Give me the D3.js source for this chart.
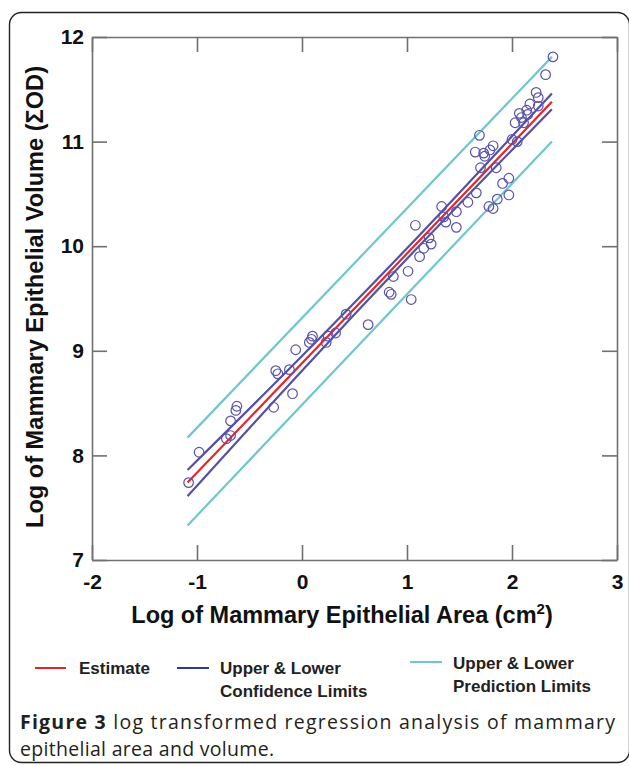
<!DOCTYPE html>
<html>
<head>
<meta charset="utf-8">
<script src="https://cdn.jsdelivr.net/npm/d3@7"></script>
<style>
  html, body { margin: 0; padding: 0; background: #fff; }
  svg { display: block; }
</style>
</head>
<body>
<svg id="chart" width="629" height="766"></svg>
<script>
// ---------------- data ----------------
const xTicks = [-2, -1, 0, 1, 2, 3];
const yTicks = [7, 8, 9, 10, 11, 12];

// observed points: log area (x), log volume (y)
const pointsX = [-1.08, -0.98, -0.72, -0.68, -0.68, -0.63, -0.62, -0.27, -0.25, -0.23,
  -0.12, -0.09, -0.06, 0.07, 0.09, 0.10, 0.23, 0.25, 0.32, 0.42,
  0.63, 0.83, 0.85, 0.87, 1.01, 1.04, 1.08, 1.12, 1.16, 1.21,
  1.23, 1.33, 1.35, 1.37, 1.47, 1.47, 1.58, 1.66, 1.78, 1.82,
  1.86, 1.97, 1.91, 1.97, 1.69, 1.65, 1.73, 1.74, 1.79, 1.82,
  1.70, 1.85, 2.00, 2.05, 2.03, 2.11, 2.09, 2.07, 2.15, 2.14,
  2.17, 2.25, 2.23, 2.25, 2.32, 2.39];
const pointsY = [7.74, 8.03, 8.16, 8.19, 8.33, 8.43, 8.47, 8.46, 8.81, 8.78,
  8.82, 8.59, 9.01, 9.08, 9.11, 9.14, 9.08, 9.14, 9.17, 9.35,
  9.25, 9.56, 9.54, 9.71, 9.76, 9.49, 10.20, 9.90, 9.98, 10.08,
  10.02, 10.38, 10.28, 10.23, 10.18, 10.33, 10.42, 10.51, 10.38, 10.36,
  10.45, 10.49, 10.60, 10.65, 11.06, 10.90, 10.89, 10.86, 10.92, 10.96,
  10.75, 10.75, 11.02, 11.00, 11.18, 11.18, 11.23, 11.27, 11.26, 11.30,
  11.36, 11.34, 11.47, 11.42, 11.64, 11.81];

// fitted lines
const lineX        = [-1.09, 0, 1, 2, 2.38];
const estimateY    = [7.74, 8.88, 9.93, 10.98, 11.38];
const upperConfY   = [7.86, 8.95, 9.98, 11.05, 11.46];
const lowerConfY   = [7.61, 8.81, 9.88, 10.92, 11.31];
const predX        = [-1.09, 2.38];
const upperPredY   = [8.17, 11.81];
const lowerPredY   = [7.33, 11.00];

const legendLabels = [["Estimate"], ["Upper & Lower", "Confidence Limits"], ["Upper & Lower", "Prediction Limits"]];

// ---------------- drawing ----------------
const svg = d3.select("#chart");
const COL_EST = "#e8242b", COL_CONF = "#5450a6", COL_PRED = "#6ec7cd", COL_PT = "#5a52aa";
const FONT = "'Liberation Sans', Arial, sans-serif";

// outer panel border
svg.append("rect")
  .attr("x", 9.5).attr("y", 12.5).attr("width", 620).attr("height", 750)
  .attr("rx", 12).attr("fill", "none").attr("stroke", "#222").attr("stroke-width", 1.4);

const x = d3.scaleLinear().domain([-2, 3]).range([92, 617]);
const y = d3.scaleLinear().domain([7, 12]).range([560, 37]);

const axisColor = "#707070";
function styleAxis(g) {
  g.selectAll("path.domain").attr("stroke", axisColor).attr("stroke-width", 1.6);
  g.selectAll(".tick line").attr("stroke", axisColor).attr("stroke-width", 1.6);
  g.selectAll(".tick text").attr("fill", "#111").attr("font-family", FONT)
    .attr("font-weight", "bold").attr("font-size", 21);
}
const fmt = d => String(d);

svg.append("g").attr("transform", `translate(0,${y(7)})`)
  .call(d3.axisBottom(x).tickValues(xTicks).tickSize(-15).tickSizeOuter(0).tickPadding(14).tickFormat(fmt))
  .call(styleAxis);
svg.append("g").attr("transform", `translate(0,${y(12)})`)
  .call(d3.axisTop(x).tickValues(xTicks).tickSize(-15).tickSizeOuter(0).tickFormat(""))
  .call(styleAxis);
svg.append("g").attr("transform", `translate(${x(-2)},0)`)
  .call(d3.axisLeft(y).tickValues(yTicks).tickSize(-15).tickSizeOuter(0).tickPadding(8).tickFormat(fmt))
  .call(styleAxis);
svg.append("g").attr("transform", `translate(${x(3)},0)`)
  .call(d3.axisRight(y).tickValues(yTicks).tickSize(-15).tickSizeOuter(0).tickFormat(""))
  .call(styleAxis);

// lines
const mk = (xs, ys) => xs.map((v, i) => [v, ys[i]]);
const line = d3.line().x(d => x(d[0])).y(d => y(d[1])).curve(d3.curveMonotoneX);
const plot = svg.append("g");
[[predX, upperPredY, COL_PRED], [predX, lowerPredY, COL_PRED],
 [lineX, upperConfY, COL_CONF], [lineX, lowerConfY, COL_CONF],
 [lineX, estimateY, COL_EST]].forEach(([xs, ys, c]) => {
  plot.append("path").attr("d", line(mk(xs, ys))).attr("fill", "none")
    .attr("stroke", c).attr("stroke-width", 2.2);
});

// points
plot.selectAll("circle").data(mk(pointsX, pointsY)).join("circle")
  .attr("cx", d => x(d[0])).attr("cy", d => y(d[1])).attr("r", 4.8)
  .attr("fill", "none").attr("stroke", COL_PT).attr("stroke-width", 1.2);

// axis titles
const xt = svg.append("text").attr("x", 342).attr("y", 623).attr("text-anchor", "middle")
  .attr("font-family", FONT).attr("font-weight", "bold").attr("font-size", 23.5).attr("fill", "#111");
xt.append("tspan").text("Log of Mammary Epithelial Area (cm");
xt.append("tspan").attr("font-size", 15).attr("dy", -9).text("2");
xt.append("tspan").attr("dy", 9).text(")");

svg.append("text").attr("transform", "translate(43,297) rotate(-90)").attr("text-anchor", "middle")
  .attr("font-family", FONT).attr("font-weight", "bold").attr("font-size", 23.5).attr("fill", "#111")
  .attr("textLength", 462).attr("lengthAdjust", "spacingAndGlyphs")
  .text("Log of Mammary Epithelial Volume (\u03A3OD)");

// legend
const legendItems = [
  { x1: 35, x2: 66, ly: 668, tx: 79, ty: 674, c: "#e8242b" },
  { x1: 177, x2: 209, ly: 668, tx: 220, ty: 674, c: "#2e3a8f" },
  { x1: 410, x2: 442, ly: 662, tx: 453, ty: 669, c: COL_PRED }
];
legendItems.forEach((it, i) => {
  svg.append("line").attr("x1", it.x1).attr("x2", it.x2).attr("y1", it.ly).attr("y2", it.ly)
    .attr("stroke", it.c).attr("stroke-width", 2);
  const t = svg.append("text").attr("font-family", FONT).attr("font-weight", "bold")
    .attr("font-size", 17).attr("fill", "#222");
  legendLabels[i].forEach((s, k) => {
    t.append("tspan").attr("x", it.tx).attr("y", it.ty + k * 23).text(s);
  });
});

// caption
const CAP = "'Open Sans', 'Noto Sans', sans-serif";
const c1 = svg.append("text").attr("x", 20).attr("y", 729).attr("font-family", CAP)
  .attr("font-size", 19.5).attr("fill", "#231f20").attr("textLength", 595).attr("lengthAdjust", "spacing");
c1.append("tspan").attr("font-weight", "bold").text("Figure 3");
c1.append("tspan").text(" log transformed regression analysis of mammary");
svg.append("text").attr("x", 20).attr("y", 756).attr("font-family", CAP)
  .attr("font-size", 19.5).attr("fill", "#231f20").attr("letter-spacing", 0.3)
  .text("epithelial area and volume.");
</script>
</body>
</html>
